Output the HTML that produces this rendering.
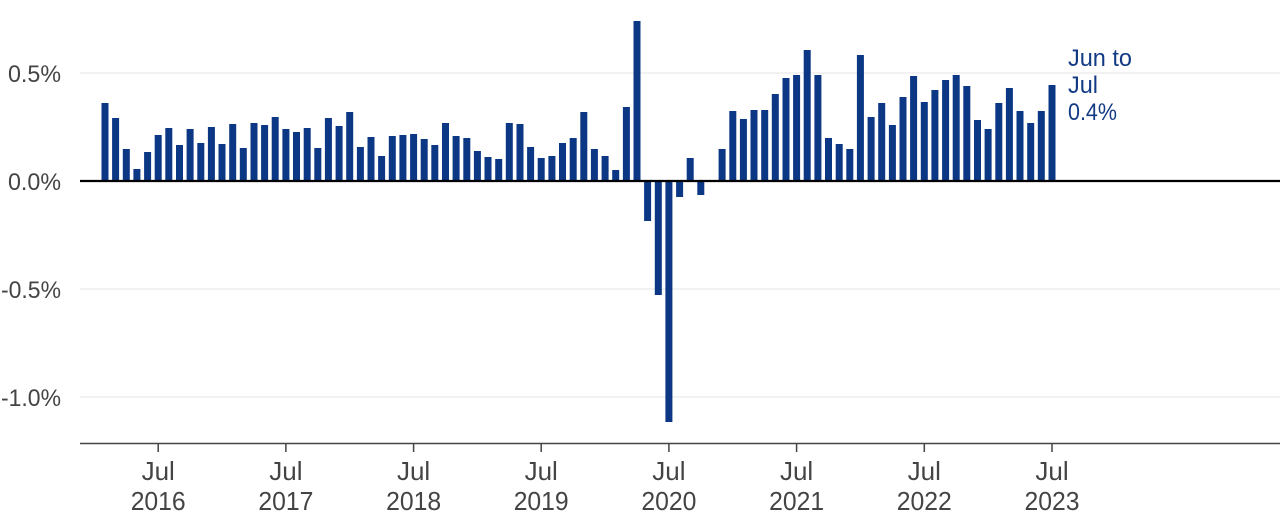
<!DOCTYPE html>
<html><head><meta charset="utf-8"><style>
html,body{margin:0;padding:0;background:#fff;}
svg{display:block;}
text{font-family:"Liberation Sans",sans-serif;}
</style></head><body>
<svg width="1280" height="516" viewBox="0 0 1280 516" xmlns="http://www.w3.org/2000/svg">
<g stroke="#e6e6e6" stroke-width="1">
<line x1="80" y1="73" x2="1280" y2="73"/>
<line x1="80" y1="289" x2="1280" y2="289"/>
<line x1="80" y1="397" x2="1280" y2="397"/>
</g>
<g fill="#444" font-size="24">
<text x="8" y="82" textLength="53" lengthAdjust="spacingAndGlyphs">0.5%</text>
<text x="8" y="190" textLength="53" lengthAdjust="spacingAndGlyphs">0.0%</text>
<text x="1" y="298" textLength="60" lengthAdjust="spacingAndGlyphs">-0.5%</text>
<text x="1" y="406" textLength="60" lengthAdjust="spacingAndGlyphs">-1.0%</text>
</g>
<g fill="#0b3784">
<rect x="101.5" y="103" width="7" height="78"/>
<rect x="112.1" y="118" width="7" height="63"/>
<rect x="122.8" y="149" width="7" height="32"/>
<rect x="133.4" y="169" width="7" height="12"/>
<rect x="144.1" y="152" width="7" height="29"/>
<rect x="154.7" y="135" width="7" height="46"/>
<rect x="165.3" y="128" width="7" height="53"/>
<rect x="176.0" y="145" width="7" height="36"/>
<rect x="186.6" y="129" width="7" height="52"/>
<rect x="197.3" y="143" width="7" height="38"/>
<rect x="207.9" y="127" width="7" height="54"/>
<rect x="218.5" y="144" width="7" height="37"/>
<rect x="229.2" y="124" width="7" height="57"/>
<rect x="239.8" y="148" width="7" height="33"/>
<rect x="250.5" y="123" width="7" height="58"/>
<rect x="261.1" y="125" width="7" height="56"/>
<rect x="271.7" y="117" width="7" height="64"/>
<rect x="282.4" y="129" width="7" height="52"/>
<rect x="293.0" y="132" width="7" height="49"/>
<rect x="303.7" y="128" width="7" height="53"/>
<rect x="314.3" y="148" width="7" height="33"/>
<rect x="324.9" y="118" width="7" height="63"/>
<rect x="335.6" y="126" width="7" height="55"/>
<rect x="346.2" y="112" width="7" height="69"/>
<rect x="356.9" y="147" width="7" height="34"/>
<rect x="367.5" y="137" width="7" height="44"/>
<rect x="378.1" y="156" width="7" height="25"/>
<rect x="388.8" y="136" width="7" height="45"/>
<rect x="399.4" y="135" width="7" height="46"/>
<rect x="410.1" y="134" width="7" height="47"/>
<rect x="420.7" y="139" width="7" height="42"/>
<rect x="431.3" y="145" width="7" height="36"/>
<rect x="442.0" y="123" width="7" height="58"/>
<rect x="452.6" y="136" width="7" height="45"/>
<rect x="463.3" y="138" width="7" height="43"/>
<rect x="473.9" y="151" width="7" height="30"/>
<rect x="484.5" y="157" width="7" height="24"/>
<rect x="495.2" y="159" width="7" height="22"/>
<rect x="505.8" y="123" width="7" height="58"/>
<rect x="516.5" y="124" width="7" height="57"/>
<rect x="527.1" y="147" width="7" height="34"/>
<rect x="537.7" y="158" width="7" height="23"/>
<rect x="548.4" y="156" width="7" height="25"/>
<rect x="559.0" y="143" width="7" height="38"/>
<rect x="569.7" y="138" width="7" height="43"/>
<rect x="580.3" y="112" width="7" height="69"/>
<rect x="590.9" y="149" width="7" height="32"/>
<rect x="601.6" y="156" width="7" height="25"/>
<rect x="612.2" y="170" width="7" height="11"/>
<rect x="622.9" y="107" width="7" height="74"/>
<rect x="633.5" y="21" width="7" height="160"/>
<rect x="644.1" y="181" width="7" height="40"/>
<rect x="654.8" y="181" width="7" height="114"/>
<rect x="665.4" y="181" width="7" height="241"/>
<rect x="676.1" y="181" width="7" height="16"/>
<rect x="686.7" y="158" width="7" height="23"/>
<rect x="697.3" y="181" width="7" height="14"/>
<rect x="718.6" y="149" width="7" height="32"/>
<rect x="729.3" y="111" width="7" height="70"/>
<rect x="739.9" y="119" width="7" height="62"/>
<rect x="750.5" y="110" width="7" height="71"/>
<rect x="761.2" y="110" width="7" height="71"/>
<rect x="771.8" y="94" width="7" height="87"/>
<rect x="782.5" y="78" width="7" height="103"/>
<rect x="793.1" y="75" width="7" height="106"/>
<rect x="803.7" y="50" width="7" height="131"/>
<rect x="814.4" y="75" width="7" height="106"/>
<rect x="825.0" y="138" width="7" height="43"/>
<rect x="835.7" y="144" width="7" height="37"/>
<rect x="846.3" y="149" width="7" height="32"/>
<rect x="856.9" y="55" width="7" height="126"/>
<rect x="867.6" y="117" width="7" height="64"/>
<rect x="878.2" y="103" width="7" height="78"/>
<rect x="888.9" y="125" width="7" height="56"/>
<rect x="899.5" y="97" width="7" height="84"/>
<rect x="910.1" y="76" width="7" height="105"/>
<rect x="920.8" y="102" width="7" height="79"/>
<rect x="931.4" y="90" width="7" height="91"/>
<rect x="942.1" y="80" width="7" height="101"/>
<rect x="952.7" y="75" width="7" height="106"/>
<rect x="963.3" y="86" width="7" height="95"/>
<rect x="974.0" y="120" width="7" height="61"/>
<rect x="984.6" y="129" width="7" height="52"/>
<rect x="995.3" y="103" width="7" height="78"/>
<rect x="1005.9" y="88" width="7" height="93"/>
<rect x="1016.5" y="111" width="7" height="70"/>
<rect x="1027.2" y="123" width="7" height="58"/>
<rect x="1037.8" y="111" width="7" height="70"/>
<rect x="1048.5" y="85" width="7" height="96"/>
</g>
<line x1="80" y1="181" x2="1280" y2="181" stroke="#000" stroke-width="2.2"/>
<line x1="80" y1="443.5" x2="1280" y2="443.5" stroke="#444" stroke-width="1.5"/>
<g stroke="#444" stroke-width="1.5">
<line x1="158.2" y1="443" x2="158.2" y2="452"/>
<line x1="285.9" y1="443" x2="285.9" y2="452"/>
<line x1="413.6" y1="443" x2="413.6" y2="452"/>
<line x1="541.2" y1="443" x2="541.2" y2="452"/>
<line x1="668.9" y1="443" x2="668.9" y2="452"/>
<line x1="796.6" y1="443" x2="796.6" y2="452"/>
<line x1="924.3" y1="443" x2="924.3" y2="452"/>
<line x1="1052.0" y1="443" x2="1052.0" y2="452"/>
</g>
<g fill="#444" font-size="26" text-anchor="middle">
<text x="158.2" y="480">Jul</text><text x="158.2" y="510" textLength="55" lengthAdjust="spacingAndGlyphs">2016</text>
<text x="285.9" y="480">Jul</text><text x="285.9" y="510" textLength="55" lengthAdjust="spacingAndGlyphs">2017</text>
<text x="413.6" y="480">Jul</text><text x="413.6" y="510" textLength="55" lengthAdjust="spacingAndGlyphs">2018</text>
<text x="541.2" y="480">Jul</text><text x="541.2" y="510" textLength="55" lengthAdjust="spacingAndGlyphs">2019</text>
<text x="668.9" y="480">Jul</text><text x="668.9" y="510" textLength="55" lengthAdjust="spacingAndGlyphs">2020</text>
<text x="796.6" y="480">Jul</text><text x="796.6" y="510" textLength="55" lengthAdjust="spacingAndGlyphs">2021</text>
<text x="924.3" y="480">Jul</text><text x="924.3" y="510" textLength="55" lengthAdjust="spacingAndGlyphs">2022</text>
<text x="1052.0" y="480">Jul</text><text x="1052.0" y="510" textLength="55" lengthAdjust="spacingAndGlyphs">2023</text>
</g>
<g fill="#123a85" font-size="24">
<text x="1068" y="66" textLength="64" lengthAdjust="spacingAndGlyphs">Jun to</text>
<text x="1068" y="93" textLength="30" lengthAdjust="spacingAndGlyphs">Jul</text>
<text x="1068" y="120" textLength="49" lengthAdjust="spacingAndGlyphs">0.4%</text>
</g>
</svg>
</body></html>
